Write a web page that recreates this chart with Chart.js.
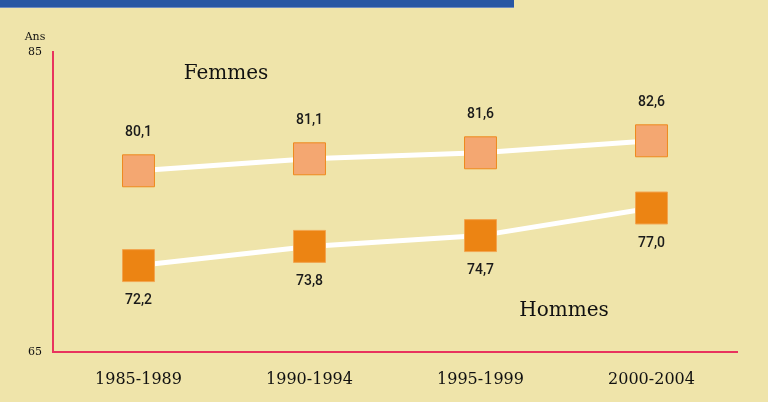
<!DOCTYPE html>
<html>
<head>
<meta charset="utf-8">
<script src="https://cdn.jsdelivr.net/npm/chart.js@4/dist/chart.umd.min.js"></script>
<style>
  html, body { margin: 0; padding: 0; background: #EFE4AA; }
  #wrap { position: relative; width: 768px; height: 402px; }
  #band { position: absolute; left: 0; top: 0; width: 514px; height: 7px; background: #2857A3; border-bottom: 1px solid #6F8CC0; }
  canvas { position: absolute; left: 0; top: 0; }
</style>
</head>
<body>
<div id="wrap">
  <canvas id="lifeChart" width="768" height="402"></canvas>
  <div id="band"></div>
</div>
<script>
// Espérance de vie par période
const periods = ['1985-1989', '1990-1994', '1995-1999', '2000-2004'];
const femmes = [80.1, 81.1, 81.6, 82.6];
const hommes = [72.2, 73.8, 74.7, 77.0];
const yTickLabels = ['65', '85'];

const axisColor = '#E8335E';
const serif = '"DejaVu Serif", "Liberation Serif", serif';

const fmt = v => v.toFixed(1).replace('.', ',');

// value labels above (femmes) or below (hommes) each marker, plus series names
const annotations = {
  id: 'annotations',
  afterDatasetsDraw(chart) {
    const ctx = chart.ctx;
    const area = chart.chartArea;
    ctx.save();
    ctx.fillStyle = '#1a1a1a';
    ctx.font = '500 14px Roboto, "Noto Sans", sans-serif';
    ctx.textAlign = 'center';
    ctx.textBaseline = 'middle';
    chart.getDatasetMeta(0).data.forEach((pt, i) => {
      ctx.fillText(fmt(femmes[i]), pt.x, pt.y - 38);
    });
    chart.getDatasetMeta(1).data.forEach((pt, i) => {
      ctx.fillText(fmt(hommes[i]), pt.x, pt.y + 35);
    });

    ctx.font = '20px ' + serif;
    ctx.fillStyle = '#111';
    ctx.fillText('Femmes', area.left + 173, area.top + 22);
    ctx.fillText('Hommes', area.left + 511, area.top + 259);

    const y = chart.scales.y;
    ctx.font = '11px ' + serif;
    ctx.fillText('Ans', y.right - 18, y.top - 15);
    ctx.restore();
  }
};

new Chart(document.getElementById('lifeChart'), {
  type: 'line',
  data: {
    labels: periods,
    datasets: [{
      label: 'Femmes',
      data: femmes,
      borderColor: '#FFFFFF',
      borderWidth: 5,
      pointStyle: 'rect',
      pointRadius: 22.6,
      pointHoverRadius: 22.6,
      pointBackgroundColor: '#F4A771',
      pointBorderColor: '#EE8A1E',
      pointBorderWidth: 1,
      tension: 0
    }, {
      label: 'Hommes',
      data: hommes,
      borderColor: '#FFFFFF',
      borderWidth: 5,
      pointStyle: 'rect',
      pointRadius: 22.6,
      pointHoverRadius: 22.6,
      pointBackgroundColor: '#EC8413',
      pointBorderColor: '#F2A550',
      pointBorderWidth: 1,
      tension: 0
    }]
  },
  options: {
    responsive: false,
    animation: false,
    events: [],
    layout: {
      padding: { top: 52, right: 31, left: 0, bottom: 0 }
    },
    plugins: {
      legend: { display: false },
      tooltip: { enabled: false }
    },
    scales: {
      x: {
        offset: true,
        grid: { color: 'transparent', drawTicks: false },
        border: { color: axisColor, width: 2 },
        ticks: {
          color: '#111',
          padding: 18,
          font: { family: serif, size: 16 }
        },
        afterFit(scale) { scale.height = 50; }
      },
      y: {
        min: 65,
        max: 90,
        grid: { color: 'transparent', drawTicks: false },
        border: { color: axisColor, width: 2 },
        afterBuildTicks(scale) {
          scale.ticks = [{ value: 65 }, { value: 90 }];
        },
        ticks: {
          color: '#111',
          padding: 11,
          font: { family: serif, size: 11 },
          callback: (value, index) => yTickLabels[index]
        },
        afterFit(scale) { scale.width = 53; }
      }
    }
  },
  plugins: [annotations]
});
</script>
</body>
</html>
